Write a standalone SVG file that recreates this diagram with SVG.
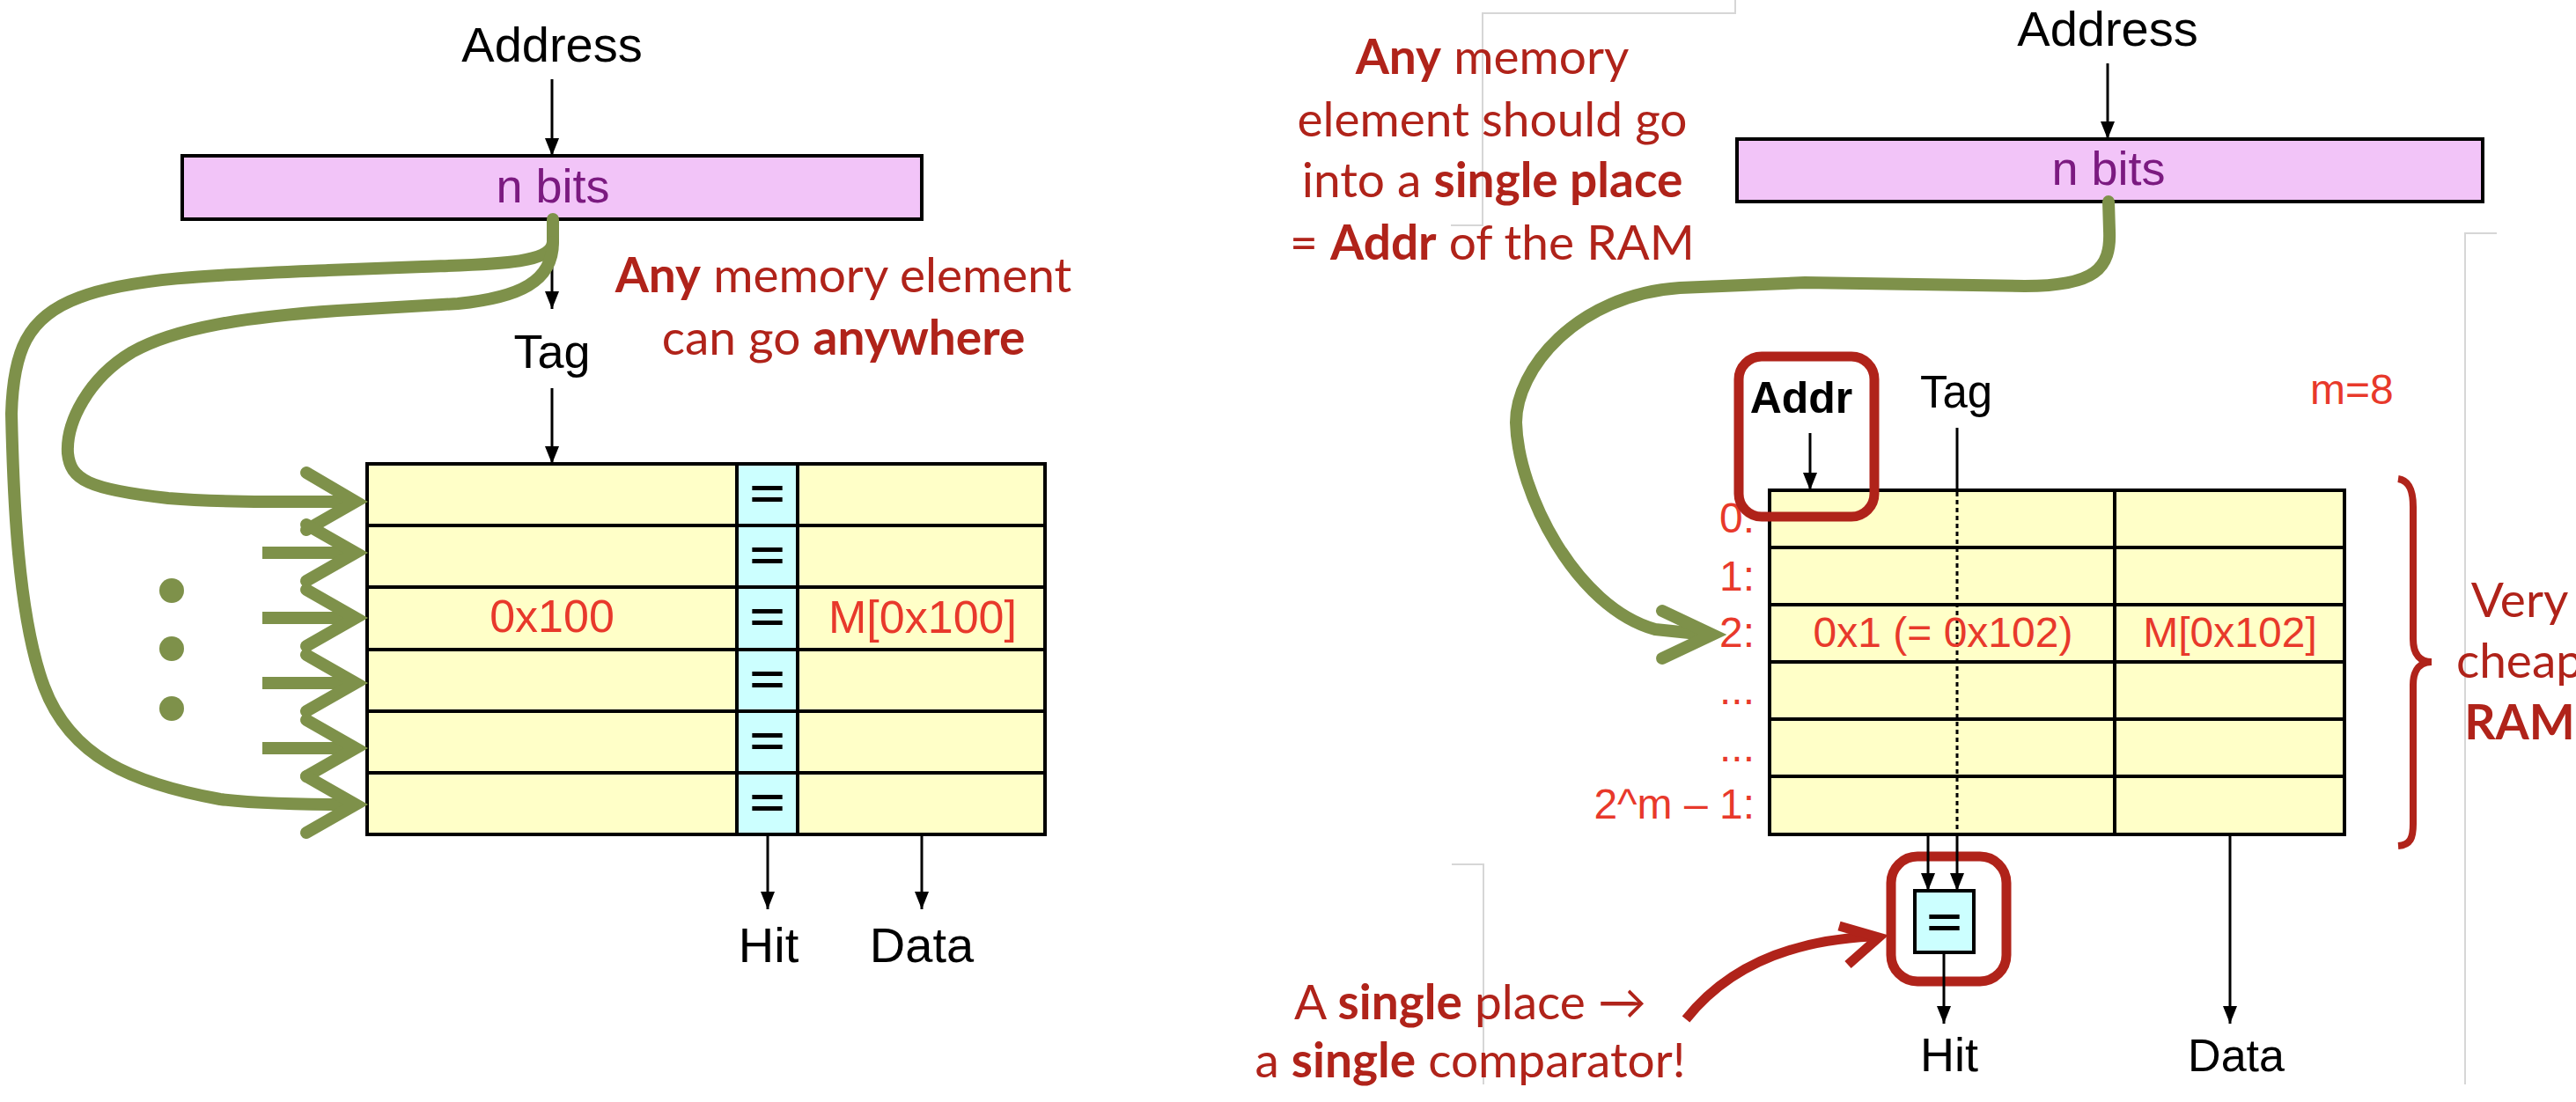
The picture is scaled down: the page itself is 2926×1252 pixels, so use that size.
<svg xmlns="http://www.w3.org/2000/svg" width="2926" height="1252" viewBox="0 0 2926 1252">
<defs>
<style>
.lbl{font-family:"Liberation Sans",Arial,sans-serif;fill:#000;text-anchor:middle;}
.red{font-family:"Liberation Sans",Arial,sans-serif;fill:#e8392b;}
.bits{font-family:"Liberation Sans",Arial,sans-serif;fill:#7b1a80;font-size:54px;text-anchor:middle;}
.note{font-family:Lato,"Liberation Sans",sans-serif;fill:#b0231a;font-size:55px;text-anchor:middle;}
.b{font-weight:700;}
.tbl{fill:#ffffc8;stroke:#000;stroke-width:4;}
.eqcol{fill:#ccffff;stroke:#000;stroke-width:4;}
.rl{stroke:#000;stroke-width:4;fill:none;}
.line{stroke:#000;stroke-width:3;fill:none;}
.wire{stroke:#000;stroke-width:3;fill:none;marker-end:url(#ah);}
.green{stroke:#7e914a;stroke-width:14;fill:none;stroke-linecap:round;stroke-linejoin:round;}
.gshaft{stroke:#7e914a;stroke-width:14;fill:none;stroke-linecap:butt;}
.chev{stroke:#7e914a;stroke-width:14;fill:none;stroke-linecap:round;stroke-linejoin:miter;stroke-miterlimit:10;}
.ghost{stroke:#d6d6d6;stroke-width:2;fill:none;}
.hl{fill:none;stroke:#b0231a;stroke-width:11;}
.eq{font-family:"Liberation Sans",Arial,sans-serif;font-weight:700;font-size:46px;text-anchor:middle;fill:#000;}
</style>
<marker id="ah" markerUnits="userSpaceOnUse" markerWidth="20" markerHeight="16" refX="20" refY="8" orient="auto"><path d="M0,0 L20,8 L0,16 Z" fill="#000"/></marker>
</defs>
<rect x="0" y="0" width="2926" height="1252" fill="#fff"/>

<g id="ghost-lines">
<polyline class="ghost" points="1971,0 1971,15 1684,15 1684,256 1648,256"/>
<polyline class="ghost" points="2836,265 2800,265 2800,1232"/>
<polyline class="ghost" points="1649,982 1685,982 1685,1232"/>
</g>

<!-- LEFT: fully associative -->
<g id="left-address"><text class="lbl" x="627" y="70" font-size="56">Address</text></g>
<g id="left-nbits">
<rect x="207" y="177" width="840" height="72" fill="#f2c4f8" stroke="#000" stroke-width="4"/>
<text class="bits" x="628" y="230">n bits</text>
</g>
<g id="left-tag"><text class="lbl" x="627" y="418" font-size="54">Tag</text></g>
<g id="left-table">
<rect class="tbl" x="417" y="527" width="770" height="421"/>
<rect class="eqcol" x="837" y="527" width="69" height="421"/>
<line class="rl" x1="417" y1="597" x2="1187" y2="597"/>
<line class="rl" x1="417" y1="667" x2="1187" y2="667"/>
<line class="rl" x1="417" y1="738" x2="1187" y2="738"/>
<line class="rl" x1="417" y1="808" x2="1187" y2="808"/>
<line class="rl" x1="417" y1="878" x2="1187" y2="878"/>
<text class="eq" x="871.5" y="577" textLength="40" lengthAdjust="spacingAndGlyphs">=</text>
<text class="eq" x="871.5" y="647" textLength="40" lengthAdjust="spacingAndGlyphs">=</text>
<text class="eq" x="871.5" y="717" textLength="40" lengthAdjust="spacingAndGlyphs">=</text>
<text class="eq" x="871.5" y="788" textLength="40" lengthAdjust="spacingAndGlyphs">=</text>
<text class="eq" x="871.5" y="858" textLength="40" lengthAdjust="spacingAndGlyphs">=</text>
<text class="eq" x="871.5" y="928" textLength="40" lengthAdjust="spacingAndGlyphs">=</text>
<text class="red" x="627" y="718" font-size="52" text-anchor="middle">0x100</text>
<text class="red" x="1048" y="719" font-size="52" text-anchor="middle">M[0x100]</text>
</g>
<g id="left-hit"><text class="lbl" x="873" y="1093" font-size="56">Hit</text></g>
<g id="left-data"><text class="lbl" x="1047" y="1093" font-size="56">Data</text></g>
<g id="left-note">
<text class="note" x="958" y="332"><tspan class="b">Any</tspan> memory element</text>
<text class="note" x="958" y="403">can go <tspan class="b">anywhere</tspan></text>
</g>
<g id="left-dots" fill="#7e914a">
<circle cx="195" cy="671" r="14"/>
<circle cx="195" cy="737" r="14"/>
<circle cx="195" cy="805" r="14"/>
</g>

<!-- RIGHT: direct mapped -->
<g id="right-address"><text class="lbl" x="2394" y="52" font-size="56">Address</text></g>
<g id="right-nbits">
<rect x="1973" y="158" width="847" height="71" fill="#f2c4f8" stroke="#000" stroke-width="4"/>
<text class="bits" x="2395" y="210">n bits</text>
</g>
<g id="right-note">
<text class="note" x="1695" y="84"><tspan class="b">Any</tspan> memory</text>
<text class="note" x="1695" y="155">element should go</text>
<text class="note" x="1695" y="224">into a <tspan class="b">single place</tspan></text>
<text class="note" x="1695" y="295">= <tspan class="b">Addr</tspan> of the RAM</text>
</g>
<g id="right-addr-label"><text class="lbl b" x="2046" y="469" font-size="50">Addr</text></g>
<g id="right-tag"><text class="lbl" x="2222" y="463" font-size="51">Tag</text></g>
<g id="right-m"><text class="red" x="2624" y="459" font-size="48">m=8</text></g>
<g id="right-table">
<rect class="tbl" x="2010" y="557" width="653" height="391"/>
<line class="rl" x1="2010" y1="622" x2="2663" y2="622"/>
<line class="rl" x1="2010" y1="687" x2="2663" y2="687"/>
<line class="rl" x1="2010" y1="752" x2="2663" y2="752"/>
<line class="rl" x1="2010" y1="817" x2="2663" y2="817"/>
<line class="rl" x1="2010" y1="882" x2="2663" y2="882"/>
<line class="rl" x1="2402" y1="557" x2="2402" y2="948"/>
<line x1="2223" y1="559" x2="2223" y2="946" stroke="#000" stroke-width="3" stroke-dasharray="5 4"/>
<text class="red" x="2207" y="735" font-size="48" text-anchor="middle">0x1 (= 0x102)</text>
<text class="red" x="2533" y="735" font-size="48" text-anchor="middle">M[0x102]</text>
</g>
<g id="right-rows" class="red" font-size="48" text-anchor="end">
<text x="1993" y="605">0:</text>
<text x="1993" y="671">1:</text>
<text x="1993" y="735">2:</text>
<text x="1993" y="800">...</text>
<text x="1993" y="865">...</text>
<text x="1993" y="930">2^m – 1:</text>
</g>
<g id="right-comparator">
<rect x="2175" y="1012" width="67" height="70" fill="#ccffff" stroke="#000" stroke-width="4"/>
<text class="eq" x="2208.5" y="1064" textLength="40" lengthAdjust="spacingAndGlyphs">=</text>
</g>
<g id="right-hit"><text class="lbl" x="2214" y="1217" font-size="54">Hit</text></g>
<g id="right-data"><text class="lbl" x="2540" y="1217" font-size="52">Data</text></g>
<g id="right-brace"><path d="M2724,544 C2738,546 2741,560 2741,576 L2741,726 C2741,745 2750,752 2762,752 C2750,752 2741,760 2741,778 L2741,936 C2741,952 2738,960 2724,961" fill="none" stroke="#b0231a" stroke-width="8"/></g>
<g id="right-ram-note">
<text class="note" x="2862" y="701">Very</text>
<text class="note" x="2862" y="770">cheap</text>
<text class="note b" x="2862" y="840">RAM</text>
</g>
<g id="bottom-note">
<text class="note" x="1670" y="1158">A <tspan class="b">single</tspan> place →</text>
<text class="note" x="1670" y="1224">a <tspan class="b">single</tspan> comparator!</text>
</g>
<g id="highlights">
<rect class="hl" x="1975" y="405" width="154" height="182" rx="26"/>
<rect class="hl" x="2148" y="973" width="131" height="142" rx="30"/>
</g>

<g id="connectors">
<!-- left black -->
<line class="wire" x1="627" y1="90" x2="627" y2="177"/>
<line class="wire" x1="627" y1="249" x2="627" y2="351"/>
<line class="wire" x1="627" y1="441" x2="627" y2="527"/>
<line class="wire" x1="872" y1="948" x2="872" y2="1033"/>
<line class="wire" x1="1047" y1="948" x2="1047" y2="1033"/>
<!-- left green -->
<path class="green" d="M628,249 L628,275 C627,300 560,300 480,303 L373,307 C250,312 150,315 90,338 C30,360 15,400 13,470 C15,560 20,700 50,780 C80,860 150,890 250,908 C300,914 360,914 398,914"/>
<path class="green" d="M628,275 C628,320 590,338 520,345 L383,353 C280,360 200,372 150,400 C100,430 75,480 77,515 C80,545 100,556 191,566 C250,571 330,570 398,570"/>
<line class="gshaft" x1="298" y1="628" x2="398" y2="628"/>
<line class="gshaft" x1="298" y1="702" x2="398" y2="702"/>
<line class="gshaft" x1="298" y1="776" x2="398" y2="776"/>
<line class="gshaft" x1="298" y1="850" x2="398" y2="850"/>
<polyline class="chev" points="348,537 404,570 348,602"/>
<polyline class="chev" points="348,596 404,628 348,660"/>
<polyline class="chev" points="348,670 404,702 348,734"/>
<polyline class="chev" points="348,744 404,776 348,808"/>
<polyline class="chev" points="348,818 404,850 348,882"/>
<polyline class="chev" points="348,882 404,914 348,946"/>
<!-- right black -->
<line class="wire" x1="2394" y1="72" x2="2394" y2="158"/>
<line class="wire" x1="2056" y1="492" x2="2056" y2="557"/>
<line class="line" x1="2223" y1="486" x2="2223" y2="557"/>
<line class="wire" x1="2190" y1="948" x2="2190" y2="1012"/>
<line class="wire" x1="2223" y1="948" x2="2223" y2="1012"/>
<line class="wire" x1="2208" y1="1082" x2="2208" y2="1163"/>
<line class="wire" x1="2533" y1="948" x2="2533" y2="1163"/>
<!-- right green -->
<path class="green" d="M2395,229 L2396,262 C2398,305 2380,325 2300,325 L2050,321 L1908,327 C1790,335 1722,420 1722,480 C1724,560 1790,690 1880,715 L1938,721"/>
<polyline class="chev" points="1888,694 1945,721 1888,748"/>
<!-- red pointer -->
<path d="M1915,1158 C1965,1095 2040,1068 2126,1064" fill="none" stroke="#b0231a" stroke-width="11"/>
<polyline points="2089,1052 2134,1065 2099,1096" fill="none" stroke="#b0231a" stroke-width="11" stroke-linejoin="miter" stroke-linecap="butt"/>
</g>
</svg>
